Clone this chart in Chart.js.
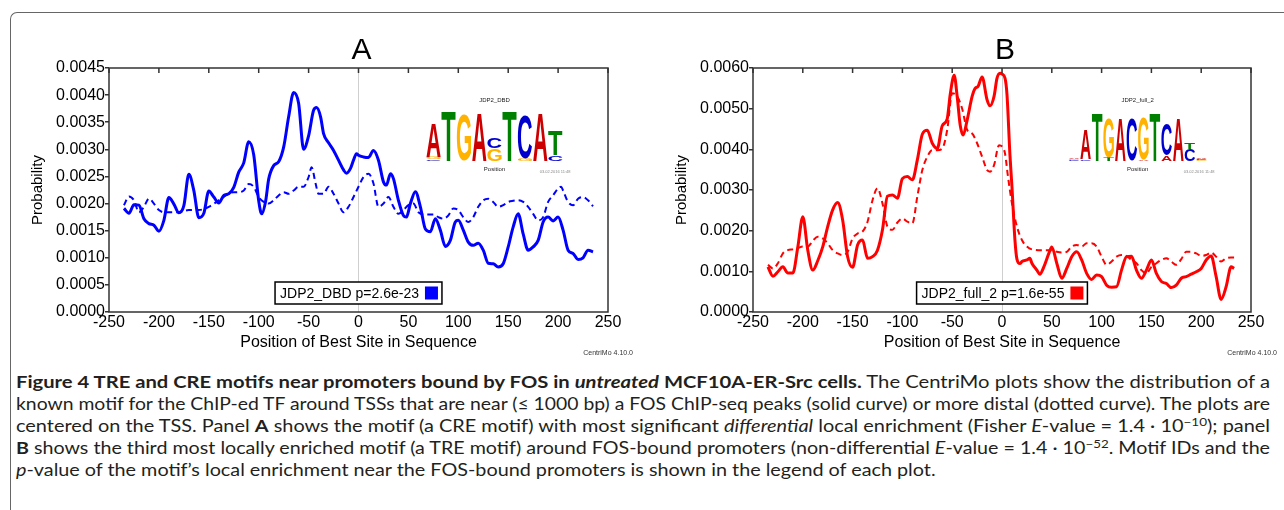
<!DOCTYPE html>
<html>
<head>
<meta charset="utf-8">
<script src="https://cdn.jsdelivr.net/npm/chart.js@4.4.0/dist/chart.umd.min.js"></script>
<style>
    html, body { margin: 0; padding: 0; background: #fff; }
    body { width: 1284px; height: 510px; position: relative; overflow: hidden; }
    #frame {
        position: absolute; left: 10px; top: 12px; width: 1300px; height: 520px;
        border-top: 1.5px solid #666; border-left: 1.5px solid #666;
        border-top-left-radius: 7px;
    }
    .panel { position: absolute; top: 0; }
    #caption {
        position: absolute; left: 16px; top: 371px;
        font-family: Lato, "Open Sans", sans-serif; font-size: 17px; line-height: 22px;
        color: #231f20;
    }
    .ln { white-space: nowrap; height: 22px; }
    .ln > span { display: inline-block; transform-origin: 0 50%; }
    sup { font-size: 0.68em; line-height: 0; vertical-align: 0.5em; }
</style>
</head>
<body>
<div id="frame"></div>
<canvas id="chartA" class="panel" width="640" height="360" style="left:0"></canvas>
<canvas id="chartB" class="panel" width="644" height="360" style="left:640px"></canvas>

<div id="caption">
    <div class="ln"><span><b>Figure 4 TRE and CRE motifs near promoters bound by FOS in <i>untreated</i> MCF10A-ER-Src cells.</b> The CentriMo plots show the distribution of a</span></div>
    <div class="ln"><span>known motif for the ChIP-ed TF around TSSs that are near (≤ 1000 bp) a FOS ChIP-seq peaks (solid curve) or more distal (dotted curve). The plots are</span></div>
    <div class="ln"><span>centered on the TSS. Panel <b>A</b> shows the motif (a CRE motif) with most significant <i>differential</i> local enrichment (Fisher <i>E</i>-value = 1.4 · 10<sup>−10</sup>); panel</span></div>
    <div class="ln"><span><b>B</b> shows the third most locally enriched motif (a TRE motif) around FOS-bound promoters (non-differential <i>E</i>-value = 1.4 · 10<sup>−52</sup>. Motif IDs and the</span></div>
    <div class="ln"><span><i>p</i>-value of the motif’s local enrichment near the FOS-bound promoters is shown in the legend of each plot.</span></div>
</div>

<script>
// ---- data ----
// Panel A (JDP2_DBD): solid = near FOS peaks, dashed = more distal
const aSolidPos  = [-235,-230,-225,-220,-215,-210,-205,-200,-195,-190,-185,-180,-175,-170,-165,-160,-155,-150,-145,-140,-135,-130,-125,-120,-115,-110,-105,-100,-97,-93,-90,-85,-80,-75,-70,-65,-60,-55,-50,-45,-42,-38,-35,-30,-25,-20,-15,-12,-8,-5,-2,0,5,10,15,20,25,28,32,35,40,45,48,52,57,62,67,72,77,82,87,92,97,100,105,110,115,120,125,130,135,140,145,150,155,160,165,170,175,180,185,190,195,200,205,210,215,220,225,230,235];
const aSolidProb = [0.00191,0.00182,0.00198,0.00197,0.00172,0.00163,0.00160,0.00149,0.00169,0.00211,0.00199,0.00183,0.00196,0.00254,0.00224,0.00174,0.00182,0.00223,0.00212,0.00201,0.00215,0.00218,0.00230,0.00258,0.00275,0.00314,0.00290,0.00205,0.00181,0.00205,0.00245,0.00270,0.00277,0.00304,0.00360,0.00405,0.00385,0.00300,0.00325,0.00372,0.00377,0.00360,0.00329,0.00312,0.00298,0.00280,0.00262,0.00256,0.00265,0.00280,0.00292,0.00289,0.00286,0.00285,0.00298,0.00280,0.00240,0.00234,0.00255,0.00246,0.00206,0.00178,0.00175,0.00200,0.00222,0.00194,0.00153,0.00148,0.00172,0.00151,0.00121,0.00132,0.00166,0.00169,0.00151,0.00129,0.00123,0.00127,0.00114,0.00090,0.00089,0.00083,0.00089,0.00120,0.00157,0.00181,0.00144,0.00114,0.00120,0.00132,0.00166,0.00175,0.00168,0.00175,0.00151,0.00114,0.00108,0.00097,0.00100,0.00114,0.00111];
const aDistalPos  = [-235,-230,-225,-220,-215,-210,-205,-200,-195,-190,-180,-170,-160,-150,-140,-130,-125,-120,-115,-110,-105,-100,-95,-90,-85,-80,-75,-70,-65,-60,-55,-50,-47,-43,-40,-35,-30,-25,-20,-15,-10,-5,0,5,10,15,20,25,30,35,40,45,50,55,60,65,70,75,80,85,90,95,100,105,110,115,120,125,130,135,140,145,150,155,160,165,170,175,180,185,190,195,200,203,205,210,215,220,225,230,235];
const aDistalProb = [0.00197,0.00213,0.00206,0.00184,0.00194,0.00209,0.00200,0.00188,0.00184,0.00184,0.00184,0.00188,0.00188,0.00194,0.00206,0.00218,0.00221,0.00221,0.00224,0.00236,0.00231,0.00212,0.00203,0.00200,0.00206,0.00215,0.00221,0.00218,0.00224,0.00231,0.00231,0.00249,0.00267,0.00237,0.00218,0.00218,0.00231,0.00218,0.00200,0.00184,0.00194,0.00212,0.00231,0.00249,0.00255,0.00237,0.00194,0.00200,0.00212,0.00194,0.00181,0.00188,0.00197,0.00200,0.00184,0.00180,0.00180,0.00180,0.00175,0.00172,0.00178,0.00191,0.00188,0.00175,0.00166,0.00175,0.00194,0.00206,0.00209,0.00203,0.00194,0.00197,0.00203,0.00205,0.00206,0.00203,0.00194,0.00181,0.00169,0.00175,0.00203,0.00215,0.00228,0.00231,0.00224,0.00203,0.00197,0.00209,0.00212,0.00206,0.00195];

// Panel B (JDP2_full_2)
const bSolidPos  = [-235,-230,-225,-220,-215,-210,-205,-200,-195,-190,-185,-180,-175,-170,-165,-160,-155,-150,-145,-140,-135,-130,-125,-120,-115,-110,-105,-100,-95,-90,-85,-80,-75,-70,-65,-60,-55,-52,-48,-45,-42,-39,-35,-30,-27,-24,-20,-15,-12,-8,-5,-2,0,3,5,8,10,13,15,18,20,25,28,30,35,38,42,47,50,55,60,65,70,75,80,85,90,95,100,105,110,115,120,125,130,135,140,145,150,155,160,165,170,175,180,185,190,195,200,205,210,215,220,225,230,233];
const bSolidProb = [0.00111,0.00088,0.00099,0.00111,0.00096,0.00096,0.00160,0.00234,0.00152,0.00103,0.00126,0.00160,0.00210,0.00251,0.00269,0.00226,0.00136,0.00110,0.00165,0.00177,0.00132,0.00136,0.00152,0.00202,0.00285,0.00288,0.00280,0.00328,0.00333,0.00325,0.00374,0.00437,0.00447,0.00415,0.00402,0.00458,0.00475,0.00535,0.00582,0.00530,0.00460,0.00435,0.00472,0.00530,0.00550,0.00555,0.00578,0.00522,0.00507,0.00530,0.00575,0.00587,0.00585,0.00575,0.00535,0.00385,0.00308,0.00177,0.00130,0.00119,0.00124,0.00128,0.00132,0.00120,0.00103,0.00093,0.00111,0.00144,0.00160,0.00120,0.00083,0.00107,0.00136,0.00148,0.00128,0.00095,0.00080,0.00091,0.00087,0.00066,0.00061,0.00062,0.00103,0.00136,0.00137,0.00103,0.00083,0.00103,0.00128,0.00095,0.00075,0.00070,0.00060,0.00066,0.00083,0.00087,0.00093,0.00099,0.00107,0.00128,0.00138,0.00087,0.00031,0.00062,0.00111,0.00107];
const bDistalPos  = [-235,-230,-225,-220,-215,-210,-205,-200,-195,-190,-185,-180,-175,-170,-165,-160,-155,-150,-145,-140,-135,-130,-125,-120,-115,-110,-105,-100,-95,-90,-85,-80,-75,-70,-65,-60,-55,-50,-45,-40,-35,-30,-25,-20,-15,-12,-8,-3,0,3,6,10,15,20,25,30,40,50,55,60,65,70,75,80,85,90,95,100,105,110,115,120,125,130,135,140,145,150,155,160,165,170,175,180,185,190,195,200,205,210,215,220,225,230,233];
const bDistalProb = [0.00116,0.00107,0.00120,0.00144,0.00152,0.00154,0.00157,0.00161,0.00161,0.00175,0.00185,0.00181,0.00169,0.00152,0.00144,0.00140,0.00148,0.00181,0.00193,0.00198,0.00222,0.00275,0.00304,0.00267,0.00210,0.00202,0.00220,0.00230,0.00222,0.00218,0.00284,0.00349,0.00382,0.00398,0.00398,0.00402,0.00448,0.00538,0.00530,0.00500,0.00448,0.00439,0.00415,0.00382,0.00349,0.00345,0.00361,0.00410,0.00407,0.00390,0.00333,0.00267,0.00210,0.00177,0.00161,0.00154,0.00152,0.00152,0.00148,0.00146,0.00148,0.00161,0.00165,0.00161,0.00169,0.00169,0.00161,0.00136,0.00116,0.00124,0.00136,0.00140,0.00138,0.00128,0.00120,0.00103,0.00095,0.00111,0.00120,0.00128,0.00132,0.00124,0.00116,0.00130,0.00148,0.00148,0.00144,0.00138,0.00140,0.00146,0.00136,0.00124,0.00132,0.00134,0.00134];

// sequence logos: one entry per position, letters stacked bottom to top with height in bits
const logoA = [
    [['C', 0.06], ['G', 0.1], ['A', 1.35]],
    [['T', 2.0]],
    [['G', 1.86]],
    [['A', 1.96]],
    [['G', 0.5], ['C', 0.45]],
    [['T', 2.0]],
    [['G', 0.08], ['C', 1.77]],
    [['A', 1.96]],
    [['C', 0.23], ['T', 1.02]]
];
const logoB = [
    [['C', 0.04], ['G', 0.04], ['A', 0.05]],
    [['C', 0.06], ['A', 1.22]],
    [['T', 1.97]],
    [['T', 0.14], ['G', 1.63]],
    [['A', 1.72]],
    [['C', 1.72]],
    [['A', 0.06], ['G', 1.7]],
    [['T', 1.97]],
    [['A', 0.22], ['C', 1.3]],
    [['A', 1.72]],
    [['C', 0.48], ['T', 0.27]],
    [['G', 0.03], ['C', 0.05], ['A', 0.04]]
];

const FONT = '"Liberation Sans", Arial, sans-serif';
const LETTER_COLORS = { A: '#cc0000', C: '#0000cc', G: '#ffb300', T: '#008000' };

function points(xs, ys) {
    return xs.map((x, i) => ({ x: x, y: ys[i] }));
}

function drawLetter(ctx, ch, x, yBottom, w, h) {
    if (h < 0.3) return;
    ctx.save();
    ctx.font = 'bold 100px ' + FONT;
    ctx.textAlign = 'left';
    ctx.textBaseline = 'alphabetic';
    const m = ctx.measureText(ch);
    const gw = m.actualBoundingBoxLeft + m.actualBoundingBoxRight;
    const gh = m.actualBoundingBoxAscent + m.actualBoundingBoxDescent;
    ctx.translate(x, yBottom);
    ctx.scale(w / gw, h / gh);
    ctx.fillStyle = LETTER_COLORS[ch];
    ctx.fillText(ch, m.actualBoundingBoxLeft, -m.actualBoundingBoxDescent);
    ctx.restore();
}

// frame, inward top ticks, panel letter, legend box, logo, footer
const decorPlugin = {
    id: 'decor',
    afterDraw(chart, args, opts) {
        const { ctx, chartArea: ca, scales } = chart;
        const xs = scales.x;
        ctx.save();

        ctx.strokeStyle = '#333';
        ctx.lineWidth = 1.5;
        ctx.strokeRect(ca.left, ca.top, ca.right - ca.left, ca.bottom - ca.top);
        ctx.beginPath();
        xs.ticks.forEach(t => {
            const px = xs.getPixelForValue(t.value);
            ctx.moveTo(px, ca.top);
            ctx.lineTo(px, ca.top + 5);
        });
        ctx.stroke();

        // panel letter
        ctx.fillStyle = '#000';
        ctx.font = '30px ' + FONT;
        ctx.textAlign = 'center';
        ctx.textBaseline = 'alphabetic';
        ctx.fillText(opts.letter, xs.getPixelForValue(3), 59);

        // legend
        ctx.font = '14px ' + FONT;
        const tw = ctx.measureText(opts.legend).width;
        const sq = 13, bh = 22;
        const bw = 5 + tw + 6 + sq + 4;
        const bx = (ca.left + ca.right) / 2 - bw / 2;
        const by = ca.bottom - 8 - bh;
        ctx.fillStyle = '#fff';
        ctx.fillRect(bx, by, bw, bh);
        ctx.strokeStyle = '#000';
        ctx.lineWidth = 1.5;
        ctx.strokeRect(bx, by, bw, bh);
        ctx.fillStyle = '#000';
        ctx.textAlign = 'left';
        ctx.textBaseline = 'middle';
        ctx.fillText(opts.legend, bx + 5, by + bh / 2 + 1);
        ctx.fillStyle = opts.color;
        ctx.fillRect(bx + 5 + tw + 6, by + (bh - sq) / 2, sq, sq);

        // sequence logo
        const W = ca.right - ca.left, H = ca.bottom - ca.top;
        const lx0 = ca.left + opts.logoBox[0] * W;
        const lx1 = ca.left + opts.logoBox[1] * W;
        const base = ca.top + 0.38 * H;
        const pxPerBit = (0.38 - 0.179) * H / 2;
        const colW = (lx1 - lx0) / opts.logo.length;
        opts.logo.forEach((col, i) => {
            let y = base;
            col.forEach(([ch, bits]) => {
                const h = bits * pxPerBit;
                drawLetter(ctx, ch, lx0 + i * colW + 0.5, y, colW - 1, h);
                y -= h;
            });
        });
        const lmid = (lx0 + lx1) / 2;
        ctx.fillStyle = '#222';
        ctx.textAlign = 'center';
        ctx.textBaseline = 'alphabetic';
        ctx.font = '6px ' + FONT;
        ctx.fillText(opts.logoTitle, lmid, ca.top + 0.14 * H);
        ctx.fillText('Position', lmid, base + 10);
        ctx.fillStyle = '#888';
        ctx.font = '4px ' + FONT;
        ctx.fillText('03.02.2016 11:48', lx1 - 8, base + 12);

        // footer
        ctx.fillStyle = '#333';
        ctx.font = '7px ' + FONT;
        ctx.textAlign = 'right';
        ctx.fillText('CentriMo 4.10.0', chart.width - 7, 355);

        ctx.restore();
    }
};

function buildChart(id, cfg) {
    return new Chart(document.getElementById(id), {
        type: 'line',
        data: {
            datasets: [{
                data: points(cfg.solidPos, cfg.solidProb),
                borderColor: cfg.color,
                borderWidth: 3,
                pointRadius: 0,
                cubicInterpolationMode: 'monotone'
            }, {
                data: points(cfg.distalPos, cfg.distalProb),
                borderColor: cfg.color,
                borderWidth: 2,
                borderDash: [6, 4],
                pointRadius: 0,
                cubicInterpolationMode: 'monotone'
            }]
        },
        options: {
            responsive: false,
            animation: false,
            layout: { padding: { left: 0, top: 68, right: cfg.padRight, bottom: 0 } },
            scales: {
                x: {
                    type: 'linear',
                    min: -250,
                    max: 250,
                    afterFit: s => { s.height = 48; },
                    ticks: { stepSize: 50, color: '#000', padding: 1, maxRotation: 0, autoSkip: false,
                             font: { family: FONT, size: 16 } },
                    grid: {
                        drawTicks: false,
                        color: c => (c.tick && c.tick.value === 0) ? '#cfcfcf' : 'rgba(0,0,0,0)'
                    },
                    border: { display: false },
                    title: { display: true, text: 'Position of Best Site in Sequence', color: '#000',
                             font: { family: FONT, size: 16 }, padding: { top: 0, bottom: 8 } }
                },
                y: {
                    min: 0,
                    max: cfg.yMax,
                    afterFit: s => { s.width = cfg.yWidth; },
                    ticks: { stepSize: cfg.yStep, color: '#000', padding: 0,
                             font: { family: FONT, size: 16 },
                             callback: v => v.toFixed(4) },
                    grid: { drawOnChartArea: false, tickLength: 4, color: '#333', lineWidth: 1.5 },
                    border: { display: false },
                    title: { display: true, text: 'Probability', color: '#000',
                             font: { family: FONT, size: 15 }, padding: { top: cfg.yTitlePad } }
                }
            },
            plugins: {
                legend: { display: false },
                tooltip: { enabled: false },
                decor: {
                    letter: cfg.letter,
                    legend: cfg.legend,
                    color: cfg.color,
                    logo: cfg.logo,
                    logoBox: cfg.logoBox,
                    logoTitle: cfg.logoTitle
                }
            }
        },
        plugins: [decorPlugin]
    });
}

buildChart('chartA', {
    solidPos: aSolidPos, solidProb: aSolidProb,
    distalPos: aDistalPos, distalProb: aDistalProb,
    color: '#0000ff', yMax: 0.0045, yStep: 0.0005,
    yWidth: 109, padRight: 32, yTitlePad: 29,
    letter: 'A', legend: 'JDP2_DBD p=2.6e-23',
    logo: logoA, logoBox: [0.635, 0.91], logoTitle: 'JDP2_DBD'
});

buildChart('chartB', {
    solidPos: bSolidPos, solidProb: bSolidProb,
    distalPos: bDistalPos, distalProb: bDistalProb,
    color: '#ff0000', yMax: 0.006, yStep: 0.001,
    yWidth: 113, padRight: 33, yTitlePad: 33,
    letter: 'B', legend: 'JDP2_full_2 p=1.6e-55',
    logo: logoB, logoBox: [0.633, 0.912], logoTitle: 'JDP2_full_2'
});

// fit caption lines to the justified column width
(function fitCaption() {
    const spans = document.querySelectorAll('#caption .ln > span');
    const target = 1254;
    let sum = 0;
    spans.forEach((sp, i) => {
        if (i < 4) {
            const k = target / sp.getBoundingClientRect().width;
            sp.style.transform = 'scaleX(' + k + ')';
            sum += k;
        }
    });
    spans[4].style.transform = 'scaleX(' + (sum / 4) + ')';
})();
</script>
</body>
</html>
